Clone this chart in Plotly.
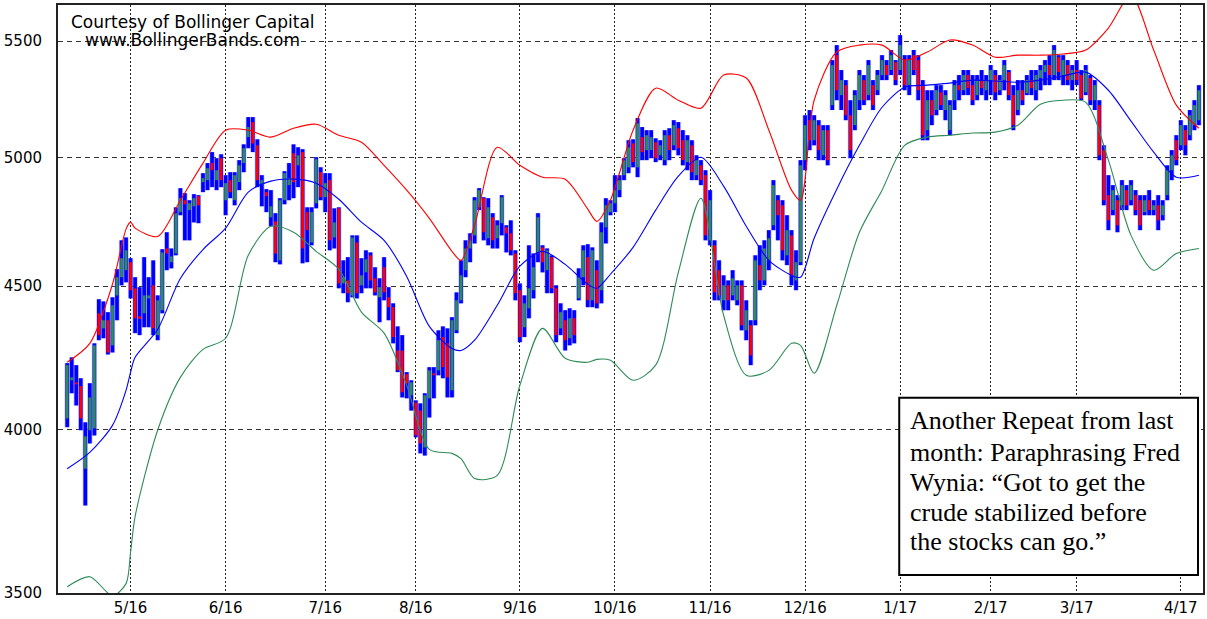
import math
import pandas as pd
import plotly.graph_objects as go

# ---------------- trading calendar (categories) ----------------
holidays = ["2016-05-30", "2016-07-04", "2016-09-05", "2016-11-24", "2016-12-26",
            "2017-01-02", "2017-01-16", "2017-02-20"]
dates = [d for d in pd.bdate_range("2016-04-12", "2017-04-07")
         if d.strftime("%Y-%m-%d") not in holidays]

# ---------------- daily bars ----------------
high = [
    4225, 4245, 4218, 4173, 4025, 4156, 4294, 4452, 4444, 4405,
    4459, 4563, 4672, 4683, 4604, 4533, 4496, 4608, 4533, 4596,
    4466, 4638, 4703, 4641, 4800, 4876, 4856, 4828, 4852, 4848,
    4936, 4977, 5022, 4997, 5013, 4928, 4940, 4940, 4989, 5054,
    5168, 5168, 5075, 4928, 4872, 4868, 4777, 4836, 4944, 4977,
    5054, 5042, 5034, 4800, 4800, 5001, 4960, 4936, 4936, 4796,
    4800, 4596, 4608, 4691, 4691, 4604, 4634, 4626, 4570, 4529,
    4608, 4496, 4437, 4354, 4323, 4194, 4166, 4098, 4088, 4122,
    4211, 4211, 4340, 4354, 4347, 4387, 4477, 4596, 4672, 4699,
    4840, 4876, 4840, 4836, 4777, 4749, 4848, 4730, 4749, 4634,
    4510, 4466, 4653, 4622, 4777, 4653, 4641, 4615, 4503, 4437,
    4412, 4419, 4412, 4566, 4653, 4657, 4645, 4596, 4741, 4836,
    4828, 4928, 4928, 4997, 5071, 5075, 5164, 5126, 5113, 5113,
    5079, 5071, 5113, 5121, 5155, 5147, 5113, 5092, 5071, 5009,
    4989, 4948, 4868, 4672, 4596, 4540, 4521, 4559, 4521, 4521,
    4448, 4376, 4615, 4653, 4672, 4711, 4908, 4848, 4828, 4769,
    4711, 4634, 4989, 5176, 5198, 5176, 5155, 5134, 5134, 5415,
    5482, 5371, 5327, 5240, 5283, 5371, 5349, 5415, 5327, 5371,
    5437, 5415, 5460, 5415, 5527, 5437, 5437, 5460, 5437, 5327,
    5283, 5283, 5305, 5305, 5283, 5240, 5327, 5349, 5371, 5371,
    5349, 5349, 5371, 5349, 5393, 5371, 5349, 5415, 5371, 5305,
    5327, 5327, 5349, 5371, 5371, 5393, 5415, 5437, 5482, 5437,
    5437, 5415, 5393, 5415, 5371, 5393, 5349, 5327, 5240, 5050,
    4928, 4888, 4848, 4908, 4888, 4908, 4868, 4848, 4848, 4868,
    4828, 4848, 4828, 4968, 5030, 5092, 5155, 5134, 5198, 5240,
    5305]

low = [
    4009, 4122, 4081, 3999, 3760, 3956, 3982, 4305, 4312, 4255,
    4262, 4376, 4503, 4514, 4455, 4330, 4323, 4351, 4351, 4323,
    4305, 4401, 4559, 4566, 4615, 4769, 4672, 4672, 4741, 4738,
    4860, 4868, 4880, 4868, 4880, 4769, 4836, 4808, 4868, 4940,
    5038, 5022, 4880, 4804, 4781, 4726, 4589, 4581, 4812, 4828,
    4836, 4880, 4585, 4589, 4653, 4796, 4828, 4781, 4634, 4641,
    4492, 4474, 4441, 4459, 4455, 4474, 4492, 4492, 4466, 4369,
    4448, 4376, 4294, 4194, 4108, 4105, 4064, 3976, 3924, 3917,
    4041, 4105, 4183, 4173, 4108, 4108, 4330, 4437, 4533, 4589,
    4660, 4789, 4672, 4653, 4641, 4641, 4691, 4626, 4615, 4448,
    4298, 4316, 4383, 4455, 4589, 4551, 4474, 4474, 4298, 4323,
    4269, 4287, 4294, 4448, 4503, 4423, 4423, 4419, 4437, 4660,
    4769, 4781, 4840, 4908, 4936, 4960, 4920, 4989, 4989, 4997,
    4981, 4989, 4968, 4989, 5030, 5009, 4968, 4948, 4908, 4908,
    4888, 4672, 4653, 4448, 4448, 4412, 4412, 4448, 4430, 4340,
    4305, 4218, 4358, 4485, 4503, 4559, 4711, 4672, 4596, 4578,
    4503, 4485, 4578, 4948, 5030, 5050, 4989, 4989, 4968, 5198,
    5240, 5198, 5155, 4997, 5113, 5198, 5219, 5240, 5198, 5262,
    5327, 5327, 5349, 5305, 5349, 5283, 5262, 5349, 5240, 5071,
    5071, 5134, 5176, 5198, 5155, 5092, 5198, 5240, 5262, 5262,
    5219, 5240, 5262, 5240, 5262, 5240, 5262, 5283, 5240, 5113,
    5176, 5219, 5262, 5262, 5240, 5283, 5305, 5305, 5327, 5327,
    5305, 5305, 5283, 5305, 5240, 5262, 5219, 5198, 4989, 4808,
    4711, 4769, 4703, 4789, 4789, 4808, 4769, 4711, 4769, 4769,
    4769, 4711, 4749, 4828, 4908, 4968, 5030, 5009, 5071, 5113,
    5134]

open_ = [
    4038, 4166, 4159, 4146, 3875, 3999, 4005, 4401, 4347, 4376,
    4287, 4466, 4533, 4559, 4589, 4492, 4390, 4401, 4455, 4503,
    4323, 4412, 4641, 4589, 4622, 4781, 4828, 4789, 4804, 4844,
    4900, 4908, 4977, 4908, 4997, 4828, 4908, 4828, 4900, 4977,
    5084, 5147, 5050, 4888, 4860, 4761, 4745, 4596, 4828, 4888,
    5017, 4968, 5022, 4781, 4664, 4816, 4940, 4840, 4908, 4683,
    4796, 4510, 4521, 4466, 4664, 4503, 4551, 4615, 4529, 4459,
    4570, 4459, 4423, 4269, 4269, 4187, 4115, 4091, 4064, 3943,
    4105, 4190, 4200, 4316, 4294, 4132, 4340, 4448, 4559, 4641,
    4691, 4800, 4836, 4680, 4761, 4680, 4738, 4722, 4699, 4622,
    4485, 4351, 4419, 4485, 4622, 4645, 4559, 4608, 4492, 4347,
    4376, 4312, 4383, 4455, 4533, 4608, 4448, 4559, 4485, 4722,
    4781, 4816, 4868, 4928, 4960, 5058, 4960, 5084, 5030, 5030,
    5063, 5009, 4989, 5092, 5050, 5121, 5071, 4981, 5050, 4928,
    4968, 4928, 4672, 4653, 4559, 4448, 4503, 4466, 4448, 4503,
    4340, 4358, 4376, 4578, 4521, 4596, 4730, 4828, 4808, 4615,
    4691, 4521, 4589, 4989, 5155, 5071, 5134, 5009, 5113, 5219,
    5437, 5262, 5305, 5176, 5134, 5240, 5327, 5262, 5305, 5283,
    5349, 5393, 5371, 5406, 5371, 5415, 5305, 5437, 5415, 5305,
    5113, 5240, 5198, 5274, 5198, 5113, 5240, 5305, 5283, 5349,
    5305, 5262, 5327, 5283, 5327, 5349, 5283, 5327, 5362, 5262,
    5198, 5283, 5270, 5327, 5283, 5336, 5362, 5393, 5349, 5428,
    5349, 5393, 5327, 5371, 5349, 5274, 5336, 5240, 5219, 5030,
    4848, 4789, 4828, 4808, 4868, 4828, 4848, 4828, 4781, 4828,
    4789, 4808, 4769, 4848, 4948, 5071, 5050, 5113, 5092, 5134,
    5155]

close = [
    4218, 4176, 4152, 4038, 3979, 4108, 4287, 4323, 4376, 4262,
    4430, 4533, 4604, 4634, 4485, 4383, 4383, 4466, 4466, 4347,
    4448, 4626, 4622, 4611, 4777, 4836, 4812, 4816, 4836, 4808,
    4916, 4956, 4948, 4948, 4908, 4896, 4860, 4928, 4968, 5038,
    5126, 5058, 4908, 4908, 4844, 4804, 4622, 4828, 4936, 4916,
    4900, 5009, 4641, 4711, 4781, 4993, 4840, 4896, 4672, 4741,
    4510, 4533, 4474, 4683, 4474, 4540, 4600, 4521, 4477, 4496,
    4477, 4423, 4316, 4200, 4125, 4156, 4159, 3982, 3956, 4115,
    4200, 4183, 4305, 4211, 4176, 4376, 4448, 4540, 4641, 4672,
    4828, 4868, 4703, 4800, 4672, 4730, 4840, 4699, 4634, 4474,
    4316, 4437, 4492, 4570, 4761, 4589, 4634, 4492, 4323, 4405,
    4305, 4383, 4323, 4533, 4634, 4448, 4634, 4437, 4703, 4808,
    4816, 4868, 4908, 4989, 5042, 4981, 5142, 5022, 5092, 5084,
    4997, 5050, 5092, 5030, 5134, 5038, 4989, 5071, 4940, 4989,
    4908, 4691, 4828, 4477, 4466, 4503, 4448, 4529, 4503, 4358,
    4412, 4252, 4596, 4521, 4641, 4680, 4888, 4769, 4634, 4711,
    4540, 4589, 4968, 5134, 5071, 5155, 5030, 5113, 4989, 5393,
    5283, 5327, 5176, 5030, 5262, 5349, 5240, 5393, 5219, 5349,
    5415, 5349, 5437, 5327, 5482, 5305, 5415, 5371, 5283, 5092,
    5240, 5176, 5283, 5219, 5262, 5219, 5305, 5283, 5349, 5292,
    5240, 5327, 5292, 5327, 5371, 5274, 5327, 5393, 5262, 5134,
    5283, 5240, 5327, 5292, 5349, 5371, 5393, 5349, 5460, 5362,
    5415, 5327, 5371, 5327, 5248, 5371, 5240, 5305, 5009, 4828,
    4749, 4868, 4730, 4888, 4808, 4888, 4789, 4730, 4828, 4789,
    4808, 4749, 4808, 4948, 5009, 4989, 5134, 5050, 5176, 5219,
    5283]

# ---------------- Bollinger bands ----------------
band_idx = [0, 5, 10, 13, 14, 15, 20, 25, 30, 35, 40, 45, 50, 55, 60, 65, 70, 75, 80, 85,
            87, 90, 95, 100, 105, 110, 115, 117, 120, 125, 130, 135, 140, 145, 150, 155,
            160, 162, 165, 170, 175, 180, 185, 190, 195, 200, 205, 210, 215, 220, 225,
            230, 235, 240, 245, 250]
upper_band = [4228, 4294, 4507, 4715, 4742, 4719, 4687, 4828, 4977, 5113, 5113, 5084, 5121,
              5138, 5092, 5063, 4968, 4868, 4757, 4630, 4596, 4730, 5042, 4968, 4920, 4912,
              4793, 4745, 4828, 5113, 5292, 5240, 5206, 5349, 5336, 5113, 4868, 4828, 5240,
              5451, 5482, 5482, 5415, 5451, 5505, 5482, 5428, 5437, 5437, 5442, 5460, 5559,
              5711, 5460, 5219, 5121]
middle_band = [3875, 3927, 4015, 4132, 4193, 4245, 4344, 4528, 4637, 4719, 4860, 4904, 4912,
               4896, 4832, 4742, 4672, 4536, 4354, 4276, 4269, 4305, 4430, 4574, 4630, 4581,
               4507, 4492, 4544, 4645, 4789, 4924, 5001, 4884, 4726, 4596, 4540, 4533, 4680,
               4872, 5050, 5210, 5296, 5305, 5314, 5327, 5323, 5318, 5327, 5345, 5362, 5283,
               5151, 5022, 4920, 4928]
lower_band = [3518, 3547, 3492, 3527, 3618, 3726, 4000, 4176, 4273, 4312, 4615, 4726, 4703,
              4630, 4563, 4405, 4330, 4149, 3937, 3924, 3907, 3844, 3854, 4149, 4347, 4242,
              4228, 4238, 4235, 4166, 4218, 4551, 4836, 4394, 4183, 4200, 4294, 4287, 4190,
              4430, 4703, 4868, 5050, 5084, 5092, 5101, 5105, 5134, 5223, 5240, 5231, 4989,
              4691, 4559, 4622, 4641]

y_ticks = [3500, 4000, 4500, 5000, 5500]
note_lines = ["Another Repeat from last",
              "month: Paraphrasing Fred",
              "Wynia: \u201cGot to get the",
              "crude stabilized before",
              "the stocks can go.\u201d"]
credit_lines = ["Courtesy of Bollinger Capital", "www.BollingerBands.com"]

# ---------------- derived ----------------
N = len(close)
dates = dates[:N]
xi = list(range(N))
month_ticks = [i for i in range(1, N) if dates[i].month != dates[i - 1].month]
month_text = [f"{dates[i].month}/{dates[i].strftime('%y')}" for i in month_ticks]

fig = go.Figure()

# bands first (drawn under the bars)
for vals, col in [(upper_band, "#ff0000"), (middle_band, "#0000ff"), (lower_band, "#2e8b57")]:
    fig.add_trace(go.Scatter(x=band_idx, y=vals, mode="lines",
                             line=dict(color=col, width=1.1, shape="spline", smoothing=0.8),
                             hoverinfo="skip"))

rng = [h - l for h, l in zip(high, low)]
fig.add_trace(go.Bar(x=xi, y=rng, base=low, width=1.15,
                     marker=dict(color="rgba(110,110,255,0.45)", line=dict(width=0)),
                     hoverinfo="skip"))
fig.add_trace(go.Bar(x=xi, y=rng, base=low, width=0.82,
                     marker=dict(color="#0000ff", line=dict(width=0)), hoverinfo="skip"))

up = [i for i in xi if close[i] >= open_[i]]
dn = [i for i in xi if close[i] < open_[i]]
fig.add_trace(go.Bar(x=up, y=[close[i] - open_[i] for i in up], base=[open_[i] for i in up],
                     width=0.62, marker=dict(color="#2e8b57", line=dict(width=0)),
                     hoverinfo="skip"))
fig.add_trace(go.Bar(x=dn, y=[open_[i] - close[i] for i in dn], base=[close[i] for i in dn],
                     width=0.62, marker=dict(color="#ff0000", line=dict(width=0)),
                     hoverinfo="skip"))

L, R, T, B = 58, 2, 5, 25
W, H = 1207, 619
pw, ph = W - L - R, H - T - B


def px_x(p):
    return (p - L) / pw


def px_y(p):
    return (H - B - p) / ph


fig.update_layout(
    width=W, height=H, margin=dict(l=L, r=R, t=T, b=B),
    plot_bgcolor="white", paper_bgcolor="white",
    showlegend=False, barmode="overlay",
)
fig.update_xaxes(
    range=[-2.03, 250.9], tickmode="array", tickvals=month_ticks, ticktext=month_text,
    showgrid=True, gridcolor="#222", gridwidth=1, griddash="2px,2px",
    showline=True, linecolor="#222", linewidth=2, mirror=True, zeroline=False,
    ticks="", tickfont=dict(family="DejaVu Sans", size=15, color="black"),
)
fig.update_yaxes(
    type="log", range=[math.log10(3500), math.log10(5665)],
    tickmode="array", tickvals=y_ticks, ticktext=[str(v) for v in y_ticks],
    showgrid=True, gridcolor="#333", gridwidth=1, griddash="5px,4px",
    showline=True, linecolor="#222", linewidth=2, mirror=True, zeroline=False,
    ticks="outside", ticklen=11, tickcolor="rgba(0,0,0,0)",
    tickfont=dict(family="DejaVu Sans", size=15, color="black"),
)

# credit text
for txt, cy in zip(credit_lines, [22.5, 40.5]):
    fig.add_annotation(text=txt, xref="paper", yref="paper", x=px_x(193), y=px_y(cy),
                       xanchor="center", yanchor="middle", showarrow=False,
                       font=dict(family="DejaVu Sans", size=17, color="black"))

# note box
fig.add_shape(type="rect", xref="paper", yref="paper",
              x0=px_x(900.7), x1=px_x(1200), y0=px_y(576), y1=px_y(398.3),
              line=dict(color="black", width=2), fillcolor="white", layer="above")
for k, txt in enumerate(note_lines):
    cy = [421.2, 452.9, 482.9, 512.9, 542.9][k]
    fig.add_annotation(text=txt, xref="paper", yref="paper", x=px_x(909), y=px_y(cy),
                       xanchor="left", yanchor="middle", showarrow=False,
                       font=dict(family="Liberation Serif", size=26, color="black"))

fig.write_html("out.html", config={"displayModeBar": False},
               post_script="document.body.style.margin='0';document.body.style.padding='0';")
